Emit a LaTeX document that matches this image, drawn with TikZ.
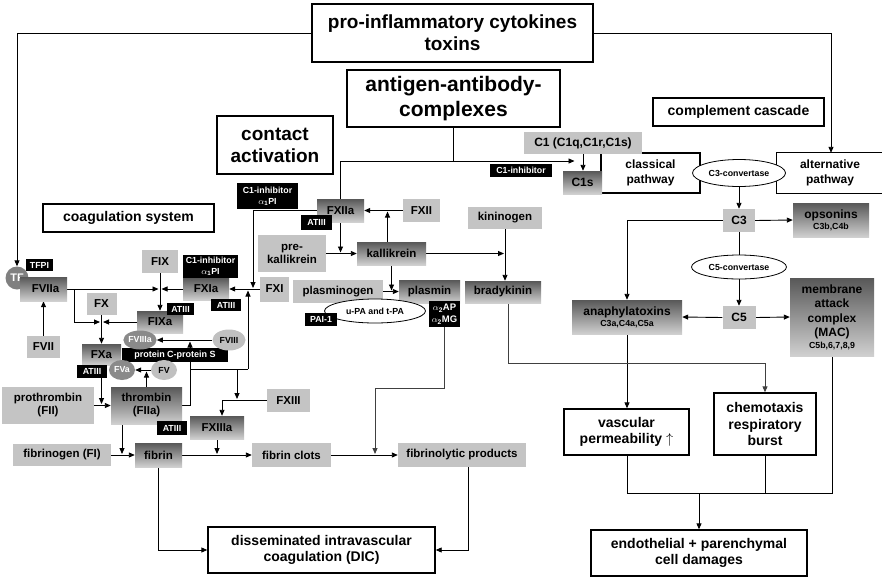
\documentclass[tikz,border=0pt]{standalone}
\usepackage{fontspec}
\setmainfont{Liberation Sans}
\usetikzlibrary{arrows.meta,calc,shapes.geometric}
\definecolor{lg}{RGB}{196,196,196}
\definecolor{gtop}{RGB}{88,88,88}
\definecolor{gbot}{RGB}{208,208,208}
\definecolor{edark}{RGB}{138,138,138}
\definecolor{elight}{RGB}{192,192,192}
\definecolor{tfc}{RGB}{128,128,128}
\pgfdeclarelayer{bg}
\pgfsetlayers{bg,main}
\begin{document}
\begin{tikzpicture}[x=1pt,y=-1pt,
  every node/.style={inner sep=0pt, align=center, font=\bfseries},
  hdr/.style={draw, line width=1.6pt, fill=white},
  sect/.style={draw, line width=1.4pt, fill=white, font=\bfseries\fontsize{14}{16.5}\selectfont},
  pathbox/.style={draw, line width=1.2pt, fill=white, font=\bfseries\fontsize{12}{14.5}\selectfont},
  gbox/.style={fill=lg, font=\bfseries\fontsize{11.5}{13}\selectfont},
  dbox/.style={top color=gtop, bottom color=gbot, font=\bfseries\fontsize{11.5}{13}\selectfont},
  bbox/.style={fill=black, text=white, font=\bfseries\fontsize{8.8}{11}\selectfont},
  conv/.style={ellipse, draw, fill=white, line width=0.8pt, font=\bfseries\fontsize{8.8}{10}\selectfont},
  fell/.style={ellipse, font=\bfseries\fontsize{8.8}{10}\selectfont},
  arr/.style={-{Triangle[length=6pt,width=5pt]}, line width=0.9pt},
  ln/.style={line width=0.9pt}
]
\useasboundingbox (0,0) rectangle (882,581);

% header boxes
\node[hdr, minimum width=281pt, minimum height=58pt, font=\bfseries\fontsize{19}{22}\selectfont] (pro) at (452.5,33) {pro-inflammatory cytokines\\toxins};
\node[hdr, minimum width=213pt, minimum height=57pt, font=\bfseries\fontsize{21}{25}\selectfont] (ag) at (453.5,98.5) {antigen-antibody-\\complexes};
\node[hdr, minimum width=116pt, minimum height=58pt, font=\bfseries\fontsize{19}{22}\selectfont] (contact) at (275,145) {contact\\activation};
\node[sect, minimum width=171pt, minimum height=28pt] (coag) at (128.5,218) {coagulation system};
\node[sect, minimum width=171pt, minimum height=28pt] (compl) at (738.5,112) {complement cascade};

% complement
\node[pathbox, minimum width=99pt, minimum height=40pt] (classical) at (650.5,173) {classical\\pathway};
\node[fill=white, minimum width=106pt, minimum height=40pt, font=\bfseries\fontsize{12}{14.5}\selectfont] (alt) at (830,173) {alternative\\pathway};
\draw[line width=1.2pt] (alt.north east) -- (alt.north west) -- (alt.south west) -- (alt.south east);
\node[gbox, minimum width=118pt, minimum height=22pt, font=\bfseries\fontsize{12}{14}\selectfont] (C1) at (583,143) {C1 (C1q,C1r,C1s)};
\node[dbox, minimum width=39pt, minimum height=23pt, font=\bfseries\fontsize{12}{14}\selectfont] (C1s) at (582.5,182.5) {C1s};
\node[bbox, minimum width=62pt, minimum height=13pt] (C1inhA) at (521,170.5) {C1-inhibitor};
\node[conv, minimum width=93pt, minimum height=27pt] (C3conv) at (739,173) {C3-convertase};
\node[gbox, minimum width=32pt, minimum height=23pt, font=\bfseries\fontsize{12}{14}\selectfont] (C3) at (739,220.5) {C3};
\node[dbox, minimum width=76pt, minimum height=34pt, font=\bfseries\fontsize{12}{12}\selectfont] (ops) at (831,220) {opsonins\\[-1pt]{\fontsize{8.8}{10}\selectfont C3b,C4b}};
\node[conv, minimum width=95pt, minimum height=24pt] (C5conv) at (739,267) {C5-convertase};
\node[gbox, minimum width=33pt, minimum height=23pt, font=\bfseries\fontsize{12}{14}\selectfont] (C5) at (739,317.5) {C5};
\node[dbox, minimum width=110pt, minimum height=34pt, font=\bfseries\fontsize{12}{12}\selectfont] (ana) at (627,317) {anaphylatoxins\\[-1pt]{\fontsize{8.8}{10}\selectfont C3a,C4a,C5a}};
\node[dbox, minimum width=84pt, minimum height=78pt, font=\bfseries\fontsize{12}{14.5}\selectfont] (MAC) at (832,317) {membrane\\attack\\complex\\(MAC)\\[-3pt]{\fontsize{8.8}{10}\selectfont C5b,6,7,8,9}};
\node[sect, minimum width=125pt, minimum height=46pt] (vasc) at (626.5,432) {vascular\\permeability $\uparrow$};
\node[sect, minimum width=102pt, minimum height=62pt] (chemo) at (765,424) {chemotaxis\\respiratory\\burst};
\node[sect, minimum width=216pt, minimum height=46pt] (endo) at (699,553) {endothelial + parenchymal\\cell damages};

% contact / kinin / fibrinolysis
\node[bbox, minimum width=61pt, minimum height=26pt] (C1inhB) at (267.5,196) {C1-inhibitor\\$\alpha_{\mathbf 1}$PI};
\node[dbox, minimum width=47pt, minimum height=23pt] (FXIIa) at (340.5,210.5) {FXIIa};
\node[bbox, minimum width=31pt, minimum height=15pt] (AT1) at (316.5,222.5) {ATIII};
\node[gbox, minimum width=37pt, minimum height=23pt] (FXII) at (421.5,210.5) {FXII};
\node[gbox, minimum width=68pt, minimum height=37pt] (prek) at (292,253.5) {pre-\\kallikrein};
\node[dbox, minimum width=69pt, minimum height=23pt] (kal) at (391.5,253.5) {kallikrein};
\node[gbox, minimum width=74pt, minimum height=22pt] (kin) at (505,218) {kininogen};
\node[dbox, minimum width=76pt, minimum height=22pt] (brady) at (503,292) {bradykinin};
\node[gbox, minimum width=90pt, minimum height=23pt] (plg) at (338,291.5) {plasminogen};
\node[dbox, minimum width=61pt, minimum height=23pt] (plasmin) at (429.5,291.5) {plasmin};
\node[conv, minimum width=101pt, minimum height=24pt] (upa) at (375,311) {u-PA and t-PA};
\node[bbox, minimum width=32pt, minimum height=13pt] (PAI) at (321,319.5) {PAI-1};
\node[bbox, minimum width=31pt, minimum height=26pt, font=\bfseries\fontsize{9.5}{12}\selectfont] (a2) at (444.5,314) {$\alpha_{\mathbf 2}$AP\\$\alpha_{\mathbf 2}$MG};

% coagulation
\node[fell, fill=tfc, text=white, minimum width=23pt, minimum height=23pt, font=\bfseries\fontsize{11}{12}\selectfont] (TF) at (17,278) {TF};
\node[bbox, minimum width=27pt, minimum height=12pt] (TFPI) at (39.5,265) {TFPI};
\node[dbox, minimum width=47pt, minimum height=24pt] (FVIIa) at (43.5,289) {\hspace*{4pt}FVIIa};
\node[gbox, minimum width=33pt, minimum height=22pt] (FVII) at (43.5,347) {FVII};
\node[gbox, minimum width=30pt, minimum height=22pt] (FX) at (101.5,304) {FX};
\node[gbox, minimum width=36pt, minimum height=23pt] (FIX) at (160,261.5) {FIX};
\node[dbox, minimum width=46pt, minimum height=22pt] (FIXa) at (160,322) {FIXa};
\node[bbox, minimum width=27pt, minimum height=12pt] (AT2) at (180.5,309) {ATIII};
\node[dbox, minimum width=46pt, minimum height=22pt] (FXIa) at (206,289) {FXIa};
\node[bbox, minimum width=55pt, minimum height=23pt] (C1inhC) at (210.5,266.5) {C1-inhibitor\\$\alpha_{\mathbf 1}$PI};
\node[bbox, minimum width=30pt, minimum height=12pt] (AT3) at (226,305) {ATIII};
\node[gbox, minimum width=29pt, minimum height=25pt] (FXI) at (274.5,289) {FXI};
\node[dbox, minimum width=39pt, minimum height=21pt] (FXa) at (101.5,354.5) {FXa};
\node[bbox, minimum width=30pt, minimum height=13pt] (AT4) at (92,371.5) {ATIII};
\node[bbox, minimum width=106pt, minimum height=14pt, font=\bfseries\fontsize{9}{11}\selectfont] (pCS) at (175,355) {protein C-protein S};
\node[fell, fill=edark, text=white, minimum width=31pt, minimum height=19pt] (FVIIIa) at (140,340) {FVIIIa};
\node[fell, fill=elight, minimum width=33pt, minimum height=21pt] (FVIII) at (229,340) {FVIII};
\node[fell, fill=edark, text=white, minimum width=26pt, minimum height=20pt] (FVa) at (122,370) {FVa};
\node[fell, fill=elight, minimum width=26pt, minimum height=20pt] (FV) at (164,370) {FV};
\node[gbox, minimum width=92pt, minimum height=37pt] (proth) at (48,405.5) {prothrombin\\(FII)};
\node[dbox, minimum width=71pt, minimum height=37pt] (thr) at (146.5,405.5) {thrombin\\(FIIa)};
\node[bbox, minimum width=30pt, minimum height=14pt] (AT5) at (172,428) {ATIII};
\node[gbox, minimum width=43pt, minimum height=23pt] (FXIII) at (288.5,400.5) {FXIII};
\node[dbox, minimum width=54pt, minimum height=23pt] (FXIIIa) at (217,427.5) {FXIIIa};
\node[gbox, minimum width=98pt, minimum height=22pt] (fgn) at (62,455) {fibrinogen (FI)};
\node[dbox, minimum width=47pt, minimum height=24pt] (fibrin) at (158.5,455) {fibrin};
\node[gbox, minimum width=79pt, minimum height=24pt] (fcl) at (291.5,455) {fibrin clots};
\node[gbox, minimum width=128pt, minimum height=24pt] (flp) at (462,455) {fibrinolytic products};
\node[sect, minimum width=227pt, minimum height=46pt] (DIC) at (321.5,550) {disseminated intravascular\\coagulation (DIC)};

% junction coordinates
\coordinate (j1) at (453.5,161);
\coordinate (jd) at (74,289);
\coordinate (je) at (253,289);
\coordinate (t1) at (190,405.5);
\coordinate (t2) at (190,369);
\coordinate (t3) at (248,369);
\coordinate (t4) at (237,369);
\coordinate (jc) at (375,388);
\coordinate (jf) at (699,493);
\coordinate (jb) at (508,363);
\coordinate (ja) at (831,33);

\begin{pgfonlayer}{bg}
% top
\draw[arr] (pro.west) -| (TF.north);
\draw[arr] (pro.east) -- (ja) -- (ja |- alt.north);
\draw[ln] (ag.south) -- (j1);
\draw[ln] (j1) -| (FXIIa.north);
\draw[arr, shorten >=8pt] (j1) -- (j1 -| C1s.north);
\draw[arr] (C1.south) -- (C1.south |- C1s.north);
% complement
\draw[arr] (C3conv.south) -- (C3.north);
\draw[arr] (C3.east) -- (ops.west);
\draw[arr] (C3.west) -| (ana.north);
\draw[ln] (C3.south) -- (C5conv.north);
\draw[arr] (C5conv.south) -- (C5.north);
\draw[arr] (C5.west) -- (ana.east);
\draw[arr] (C5.east) -- (MAC.west);
\draw[arr] (ana.south) -- (ana.south |- vasc.north);
\draw[arr, black!75] (brady.south -| jb) -- (jb) -| (chemo.north);
\draw[ln] (vasc.south -| ana.south) |- (jf);
\draw[ln] (MAC.south) |- (jf);
\draw[ln] (chemo.south) -- (chemo.south |- jf);
\draw[arr] (jf) -- (endo.north);
% kinin
\draw[arr] (kin.south) -- (kin.south |- brady.north);
\draw[arr, shorten >=1pt] (kal.east) -- (kal.east -| kin.south);
\draw[arr] (FXII.west) -- (FXIIa.east);
\draw[arr, shorten >=1pt] ([xshift=-4pt]kal.north) -- ([xshift=-4pt]kal.north |- FXII.west);
\draw[arr, shorten >=1pt] (FXIIa.south) -- (FXIIa.south |- prek.east);
\draw[arr] (prek.east) -- (kal.west);
\draw[arr, shorten >=1pt] (kal.south) -- (kal.south |- plg.east);
\draw[arr] (plg.east) -- (plasmin.west);
\draw[arr, black!75, shorten >=1pt] (a2.south) |- (jc) -- (jc |- flp.west);
\draw[arr, shorten >=1pt] (FXIIa.west) -| (je);
% coagulation
\draw[arr, shorten >=1.5pt] (FVIIa.east) -- (FVIIa.east -| FIX.south);
\draw[arr, shorten >=1.5pt] (jd) |- (FX.south |- FIXa.west);
\draw[arr] (FVII.north) -- (FVIIa.south);
\draw[arr] (FIX.south) -- (FIXa.north);
\draw[arr, shorten >=1.5pt] (FIXa.west) -- (FIXa.west -| FX.south);
\draw[arr, shorten >=1.5pt] (FXIa.west) -- (FXIa.west -| FIX.south);
\draw[arr] (FXI.west) -- (FXIa.east);
\draw[arr] (FX.south) -- (FXa.north);
\draw[arr, shorten >=1.5pt] (FXa.south) -- (FXa.south |- proth.east);
\draw[arr] (proth.east) -- (thr.west);
\draw[arr, shorten >=1.5pt] (thr.north) -- (thr.north |- FV.west);
\draw[arr] (FV.west) -- (FVa.east);
\draw[arr] (FVIII.west) -- (FVIIIa.east);
\draw[arr, shorten >=1.5pt] (thr.east |- t1) -- (t1) -- (t1 |- FVIII.west);
\draw[ln] (t2) -- (t3);
\draw[arr, shorten >=1.5pt] (t3) -- (t3 |- FXI.west);
\draw[arr, shorten >=1.5pt] (t4) -- (t4 |- FXIII.west);
\draw[arr] (FXIII.west) -| ([xshift=5pt]FXIIIa.north);
\draw[arr, shorten >=1pt] ([xshift=-24.5pt]thr.south) -- ([xshift=-24.5pt]thr.south |- fibrin.west);
\draw[arr] (fgn.east) -- (fibrin.west);
\draw[arr] (fibrin.east) -- (fcl.west);
\draw[arr, shorten >=1pt] (FXIIIa.south) -- (FXIIIa.south |- fibrin.east);
\draw[arr] (fcl.east) -- (flp.west);
\draw[arr] (fibrin.south) |- (DIC.west);
\draw[arr] ([xshift=6pt]flp.south) |- (DIC.east);
\end{pgfonlayer}
\end{tikzpicture}
\end{document}
